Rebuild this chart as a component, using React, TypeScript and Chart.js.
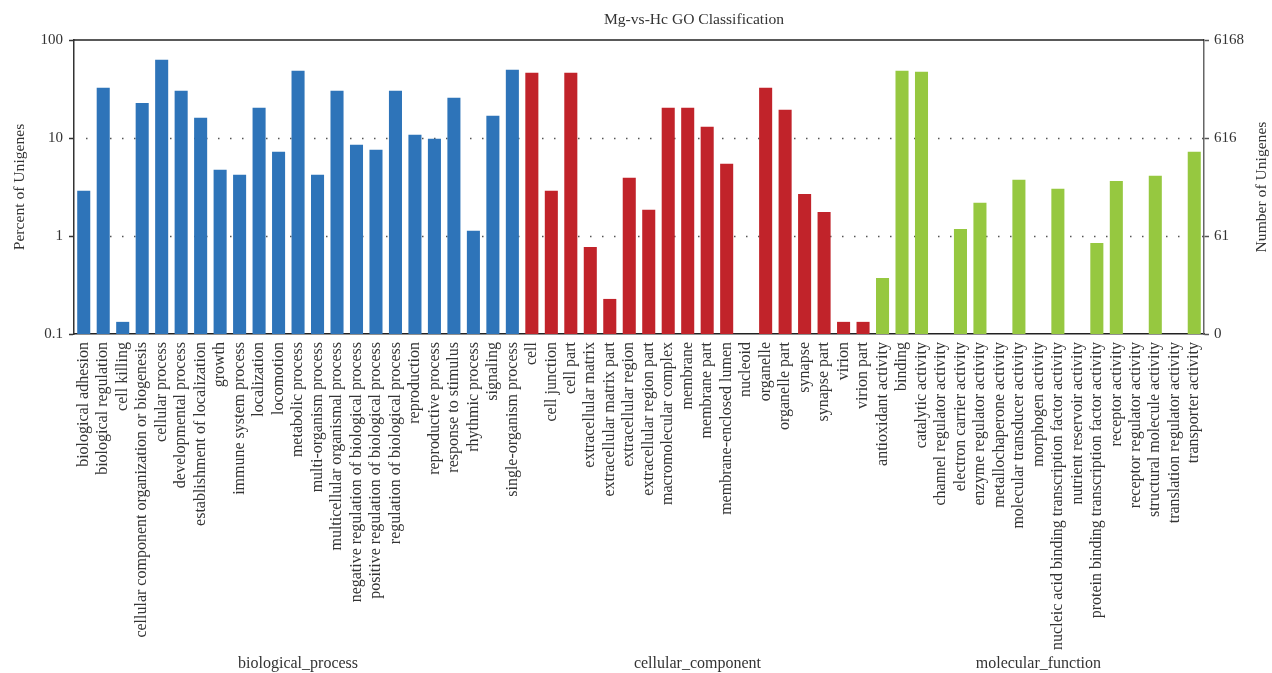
import React, { useEffect, useRef } from "react";
import { Chart, registerables } from "chart.js";

Chart.register(...registerables);

const bioProcess = [
  "biological adhesion", "biological regulation", "cell killing",
  "cellular component organization or biogenesis", "cellular process",
  "developmental process", "establishment of localization", "growth",
  "immune system process", "localization", "locomotion", "metabolic process",
  "multi-organism process", "multicellular organismal process",
  "negative regulation of biological process", "positive regulation of biological process",
  "regulation of biological process", "reproduction", "reproductive process",
  "response to stimulus", "rhythmic process", "signaling", "single-organism process",
];
const bioValues = [2.89, 32.6, 0.133, 22.7, 62.9, 30.3, 16.1, 4.73, 4.21, 20.3, 7.23, 48.6,
  4.21, 30.3, 8.53, 7.57, 30.3, 10.8, 9.81, 25.8, 1.13, 16.9, 49.7];

const cellComponent = [
  "cell", "cell junction", "cell part", "extracellular matrix", "extracellular matrix part",
  "extracellular region", "extracellular region part", "macromolecular complex", "membrane",
  "membrane part", "membrane-enclosed lumen", "nucleoid", "organelle", "organelle part",
  "synapse", "synapse part", "virion", "virion part",
];
const cellValues = [46.4, 2.89, 46.4, 0.774, 0.228, 3.92, 1.85, 20.3, 20.3, 13.0, 5.45, null,
  32.6, 19.4, 2.69, 1.76, 0.133, 0.133];

const molFunction = [
  "antioxidant activity", "binding", "catalytic activity", "channel regulator activity",
  "electron carrier activity", "enzyme regulator activity", "metallochaperone activity",
  "molecular transducer activity", "morphogen activity",
  "nucleic acid binding transcription factor activity", "nutrient reservoir activity",
  "protein binding transcription factor activity", "receptor activity",
  "receptor regulator activity", "structural molecule activity",
  "translation regulator activity", "transporter activity",
];
const molValues = [0.373, 48.6, 47.5, null, 1.18, 2.18, null, 3.74, null, 3.03, null, 0.85,
  3.65, null, 4.11, null, 7.23];

const groupNames = ["biological_process", "cellular_component", "molecular_function"];
const groupColors = ["#2e74b9", "#c1232a", "#96c840"];

const leftTicks = [0.1, 1, 10, 100];
const leftTickLabels = ["0.1", "1", "10", "100"];
const rightTicks = [6.168, 61.68, 616.8, 6168];
const rightTickLabels = ["0", "61", "616", "6168"];

const FONT = "'Liberation Serif', 'DejaVu Serif', serif";
const TEXT = "#333333";

export default function App() {
  const ref = useRef<HTMLCanvasElement>(null);

  useEffect(() => {
    const groups = [bioProcess, cellComponent, molFunction];
    const labels = [...bioProcess, ...cellComponent, ...molFunction];
    const values = [...bioValues, ...cellValues, ...molValues];
    const colors: string[] = [];
    groups.forEach((g, gi) => g.forEach(() => colors.push(groupColors[gi])));

    const overlay = {
      id: "overlay",
      beforeDatasetsDraw(chart: any) {
        const { ctx, chartArea } = chart;
        const y = chart.scales.y;
        ctx.save();
        ctx.strokeStyle = "#555555";
        ctx.lineWidth = 1.5;
        ctx.setLineDash([1.5, 10.5]);
        [1, 10].forEach((v) => {
          const py = Math.round(y.getPixelForValue(v)) + 0.5;
          ctx.beginPath();
          ctx.moveTo(chartArea.left + 12, py);
          ctx.lineTo(chartArea.right, py);
          ctx.stroke();
        });
        ctx.restore();
      },
      afterDraw(chart: any) {
        const { ctx, chartArea } = chart;
        const x = chart.scales.x;
        ctx.save();
        ctx.strokeStyle = "#222222";
        ctx.lineWidth = 1.5;
        ctx.beginPath();
        ctx.moveTo(chartArea.left, chartArea.top);
        ctx.lineTo(chartArea.right, chartArea.top);
        ctx.stroke();

        ctx.fillStyle = TEXT;
        ctx.textAlign = "center";
        ctx.textBaseline = "middle";
        ctx.font = `15.6px ${FONT}`;
        ctx.fillText("Mg-vs-Hc GO Classification", 694, 20);

        ctx.font = `16px ${FONT}`;
        let start = 0;
        groups.forEach((g, gi) => {
          const a = x.getPixelForValue(start);
          const b = x.getPixelForValue(start + g.length - 1);
          ctx.fillText(groupNames[gi], (a + b) / 2, 664);
          start += g.length;
        });

        ctx.font = `15.6px ${FONT}`;
        const cy = (chartArea.top + chartArea.bottom) / 2;
        ctx.save();
        ctx.translate(20, cy);
        ctx.rotate(-Math.PI / 2);
        ctx.fillText("Percent of Unigenes", 0, 0);
        ctx.restore();
        ctx.save();
        ctx.translate(1262, cy);
        ctx.rotate(-Math.PI / 2);
        ctx.fillText("Number of Unigenes", 0, 0);
        ctx.restore();
        ctx.restore();
      },
    };

    const chart = new Chart(ref.current!, {
      type: "bar",
      data: {
        labels,
        datasets: [
          {
            data: values as any,
            backgroundColor: colors,
            borderWidth: 0,
            categoryPercentage: 1,
            barPercentage: 0.67,
            yAxisID: "y",
          },
        ],
      },
      options: {
        animation: false,
        responsive: true,
        maintainAspectRatio: false,
        layout: { padding: { top: 40, left: 0, right: 0, bottom: 0 } },
        plugins: {
          legend: { display: false },
          tooltip: { enabled: false },
          title: { display: false },
        },
        scales: {
          x: {
            type: "category",
            grid: { display: false, drawTicks: false },
            border: { display: true, color: "#222222", width: 1.5 },
            ticks: {
              autoSkip: false,
              minRotation: 90,
              maxRotation: 90,
              padding: 8,
              color: TEXT,
              font: { family: FONT, size: 16 },
            },
            afterFit(scale: any) {
              scale.height = 339;
            },
          },
          y: {
            type: "logarithmic",
            position: "left",
            min: 0.1,
            max: 100,
            afterBuildTicks(scale: any) {
              scale.ticks = leftTicks.map((v) => ({ value: v }));
            },
            afterFit(scale: any) {
              scale.width = 74;
            },
            grid: {
              drawOnChartArea: false,
              drawTicks: true,
              tickLength: 5,
              tickColor: "#333333",
              tickWidth: 1.5,
            },
            border: { display: true, color: "#333333", width: 1.5 },
            ticks: {
              padding: 6,
              color: TEXT,
              font: { family: FONT, size: 15 },
              callback: (v: any) => {
                const i = leftTicks.findIndex((t) => Math.abs(t - v) < 1e-9);
                return i >= 0 ? leftTickLabels[i] : "";
              },
            },
          },
          y1: {
            type: "logarithmic",
            position: "right",
            min: rightTicks[0],
            max: rightTicks[rightTicks.length - 1],
            afterBuildTicks(scale: any) {
              scale.ticks = rightTicks.map((v) => ({ value: v }));
            },
            afterFit(scale: any) {
              scale.width = 68;
            },
            grid: {
              drawOnChartArea: false,
              drawTicks: true,
              tickLength: 5,
              tickColor: "#555555",
              tickWidth: 1.5,
            },
            border: { display: true, color: "#666666", width: 1.5 },
            ticks: {
              padding: 5,
              color: TEXT,
              font: { family: FONT, size: 15 },
              callback: (v: any) => {
                const i = rightTicks.findIndex((t) => Math.abs(t - v) < 1e-6);
                return i >= 0 ? rightTickLabels[i] : "";
              },
            },
          },
        },
      },
      plugins: [overlay],
    });

    return () => chart.destroy();
  }, []);

  return (
    <div style={{ position: "absolute", left: 0, top: 0, width: 1272, height: 673, background: "#fff" }}>
      <canvas ref={ref} />
    </div>
  );
}
